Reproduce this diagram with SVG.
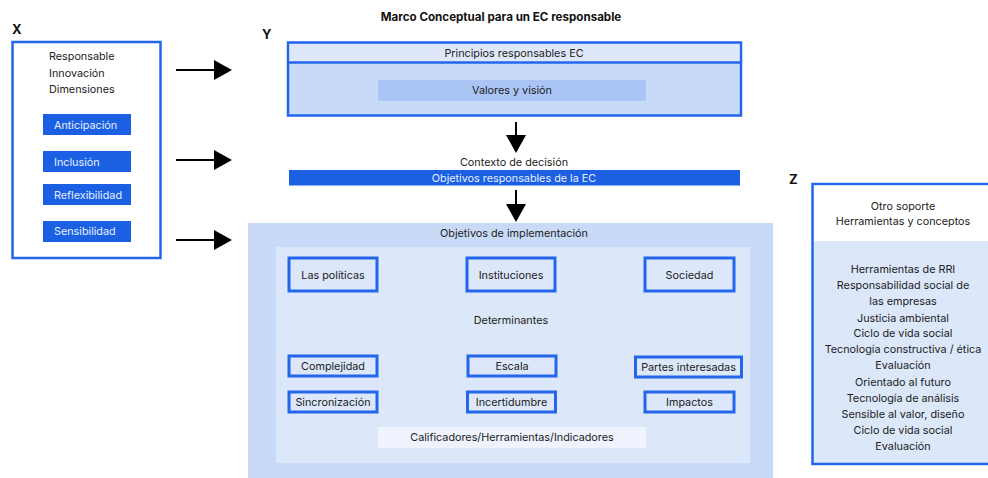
<svg xmlns="http://www.w3.org/2000/svg" width="988" height="478" viewBox="0 0 988 478">
<defs>
<style>
text{font-family:Inter,"Noto Sans","Liberation Sans",sans-serif;font-size:10.8px;fill:#222}
.c{text-anchor:middle}
.lbl{font-weight:bold;font-size:13px;fill:#111}
.ttl{font-weight:bold;font-size:11.6px;fill:#111}
.btn{fill:#1b5fe3}
.btxt{fill:#e8efff}
.node{fill:#dce7fa;stroke:#2366ec;stroke-width:3}
.con{stroke:#000;stroke-width:2;fill:none;marker-end:url(#ah)}
</style>
<marker id="ah" viewBox="0 0 18 20" refX="0" refY="10" markerWidth="18" markerHeight="20" markerUnits="userSpaceOnUse" orient="auto">
<path d="M0,0 L18,10 L0,20 Z" fill="#000"/>
</marker>
</defs>
<rect width="988" height="478" fill="#fff"/>
<text class="ttl c" x="501" y="21">Marco Conceptual para un EC responsable</text>
<text class="lbl" x="12" y="34">X</text>
<text class="lbl" x="262" y="39">Y</text>
<text class="lbl" x="789" y="184">Z</text>

<g id="X">
<rect x="12.5" y="42" width="148" height="216" fill="#fff" stroke="#2366ec" stroke-width="2.5"/>
<text x="49" y="60">Responsable</text>
<text x="49" y="77">Innovación</text>
<text x="49" y="93">Dimensiones</text>
<g id="anticipacion"><rect class="btn" x="43" y="114" width="88" height="21"/><text class="btxt" x="54" y="129">Anticipación</text></g>
<g id="inclusion"><rect class="btn" x="43" y="151" width="88" height="21"/><text class="btxt" x="54" y="166">Inclusión</text></g>
<g id="reflexibilidad"><rect class="btn" x="43" y="184" width="88" height="21"/><text class="btxt" x="54" y="199">Reflexibilidad</text></g>
<g id="sensibilidad"><rect class="btn" x="43" y="221" width="88" height="21"/><text class="btxt" x="54" y="235">Sensibilidad</text></g>
</g>

<g id="principios">
<rect x="288" y="42.5" width="453" height="73" fill="#c9daf8" stroke="#2366ec" stroke-width="2.5"/>
<rect x="289.5" y="44" width="450" height="18" fill="#dfe8fa"/>
<line x1="288" y1="62.5" x2="741" y2="62.5" stroke="#2366ec" stroke-width="2.5"/>
<text class="c" x="514" y="57">Principios responsables EC</text>
<g id="valores"><rect x="378" y="80" width="268" height="21" fill="#a9c4f5"/><text class="c" x="512" y="94">Valores y visión</text></g>
</g>

<g id="contexto">
<text class="c" x="514" y="166">Contexto de decisión</text>
<rect class="btn" x="289" y="170" width="451" height="15.5"/>
<text class="c btxt" x="514" y="181.5">Objetivos responsables de la EC</text>
</g>

<g id="implementacion">
<rect x="248" y="223" width="525" height="255" fill="#c9daf8"/>
<rect x="276" y="247" width="474" height="216" fill="#dce7fa"/>
<text class="c" x="514" y="237">Objetivos de implementación</text>
<text class="c" x="511" y="324">Determinantes</text>
<g id="politicas"><rect class="node" x="289" y="258" width="88" height="33"/><text class="c" x="333" y="279">Las políticas</text></g>
<g id="instituciones"><rect class="node" x="467" y="258" width="88" height="33"/><text class="c" x="511" y="279">Instituciones</text></g>
<g id="sociedad"><rect class="node" x="645" y="258" width="89" height="33"/><text class="c" x="689.5" y="279">Sociedad</text></g>
<g id="complejidad"><rect class="node" x="289" y="356" width="88" height="20"/><text class="c" x="333" y="370">Complejidad</text></g>
<g id="escala"><rect class="node" x="468" y="356" width="88" height="20"/><text class="c" x="512" y="370">Escala</text></g>
<g id="partes"><rect class="node" x="635.5" y="357" width="106" height="20"/><text class="c" x="688.5" y="371">Partes interesadas</text></g>
<g id="sincronizacion"><rect class="node" x="289" y="392" width="88" height="20"/><text class="c" x="333" y="406">Sincronización</text></g>
<g id="incertidumbre"><rect class="node" x="467.5" y="392" width="88" height="20"/><text class="c" x="511.5" y="406">Incertidumbre</text></g>
<g id="impactos"><rect class="node" x="645" y="392" width="89" height="20"/><text class="c" x="689.5" y="406">Impactos</text></g>
<g id="calificadores"><rect x="378" y="427" width="268" height="21" fill="#eef3fd"/><text class="c" x="512" y="441">Calificadores/Herramientas/Indicadores</text></g>
</g>

<g id="Z">
<rect x="812.5" y="184" width="190" height="280" fill="#dce7fa" stroke="#2366ec" stroke-width="2.5"/>
<rect x="814" y="185.5" width="180" height="55.5" fill="#fff"/>
<text class="c" x="903" y="210">Otro soporte</text>
<text class="c" x="903" y="225">Herramientas y conceptos</text>
<text class="c" x="903" y="273">Herramientas de RRI</text>
<text class="c" x="903" y="289">Responsabilidad social de</text>
<text class="c" x="903" y="305">las empresas</text>
<text class="c" x="903" y="321.5">Justicia ambiental</text>
<text class="c" x="903" y="337">Ciclo de vida social</text>
<text class="c" x="903" y="353">Tecnología constructiva / ética</text>
<text class="c" x="903" y="369">Evaluación</text>
<text class="c" x="903" y="385.5">Orientado al futuro</text>
<text class="c" x="903" y="401.5">Tecnología de análisis</text>
<text class="c" x="903" y="417.5">Sensible al valor, diseño</text>
<text class="c" x="903" y="433.5">Ciclo de vida social</text>
<text class="c" x="903" y="449.5">Evaluación</text>
</g>

<g id="connectors">
<line class="con" x1="176" y1="70" x2="214" y2="70"/>
<line class="con" x1="176" y1="160" x2="214" y2="160"/>
<line class="con" x1="176" y1="240" x2="214" y2="240"/>
<line class="con" x1="516" y1="122" x2="516" y2="135"/>
<line class="con" x1="516" y1="190" x2="516" y2="204"/>
</g>
</svg>
